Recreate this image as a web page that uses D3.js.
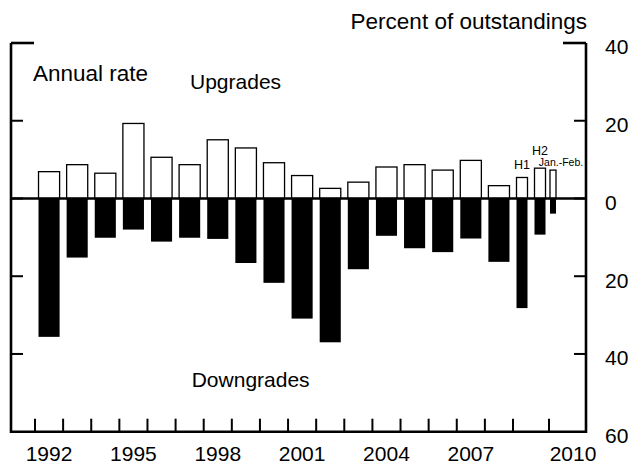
<!DOCTYPE html>
<html><head><meta charset="utf-8">
<script src="https://cdn.jsdelivr.net/npm/d3@7"></script>
<style>
body{margin:0;background:#fff}
svg{display:block}
text{font-family:"Liberation Sans",Arial,Helvetica,sans-serif;fill:#000}
</style>
</head><body>
<svg id="c" width="631" height="466"></svg>
<script>
// ---- data ----
const periods = ["1992","1993","1994","1995","1996","1997","1998","1999","2000","2001",
  "2002","2003","2004","2005","2006","2007","2008","H1","H2","Jan.-Feb."];
const periodStart = [1992,1993,1994,1995,1996,1997,1998,1999,2000,2001,
  2002,2003,2004,2005,2006,2007,2008,2009,2009.5,2010];
const periodLength = [1,1,1,1,1,1,1,1,1,1,1,1,1,1,1,1,1,0.5,0.5,2/12];
const upgrades = [6.9,8.7,6.5,19.3,10.6,8.7,15.1,13.0,9.2,5.9,2.6,4.2,8.1,8.7,7.3,9.8,3.3,5.4,7.8,7.3];
const downgrades = [35.6,15.2,10.1,8.0,11.1,10.1,10.4,16.6,21.7,30.9,37.0,18.2,9.6,12.8,13.8,10.3,16.3,28.2,9.3,3.9];
const yearTickLabels = [1992,1995,1998,2001,2004,2007,2010];
const yearTicks = d3.range(1992, 2011);
const yTicks = [40,20,0,-20,-40,-60];
const subLabels = ["H1","H2","Jan.-Feb."];

// ---- layout ----
const L = 11, R = 586, T = 43, B = 431.7;
const svg = d3.select("#c");
const x = d3.scaleLinear().domain([1992, 2009, 2010, 2011]).range([35, 513, 549, 597]);
const y = d3.scaleLinear().domain([-60, 40]).range([B, T]);

const data = periods.map((p,i)=>({p, s:periodStart[i], len:periodLength[i], up:upgrades[i], down:downgrades[i]}));
function barGeom(d){
  const band = x(d.s + d.len) - x(d.s);
  let w = 0.75*band;
  if (d.len < 1) w = Math.min(w, 11);
  const c = (x(d.s) + x(d.s + d.len))/2;
  return {x0: c - w/2, w, c};
}

// upgrade bars
svg.append("g").selectAll("rect").data(data).join("rect")
  .attr("x", d=>barGeom(d).x0)
  .attr("width", d=>barGeom(d).w)
  .attr("y", d=>y(d.up))
  .attr("height", d=>y(0)-y(d.up))
  .attr("fill","#fff").attr("stroke","#000").attr("stroke-width",1.3);

// downgrade bars
svg.append("g").selectAll("rect").data(data).join("rect")
  .attr("x", d=>barGeom(d).x0)
  .attr("width", d=>barGeom(d).w)
  .attr("y", y(0))
  .attr("height", d=>y(-d.down)-y(0))
  .attr("fill","#000");

// zero line
svg.append("line").attr("x1",L).attr("x2",R).attr("y1",y(0)).attr("y2",y(0))
  .attr("stroke","#000").attr("stroke-width",2.6);

// frame: left, right, bottom
const ax = svg.append("g").attr("stroke","#000").attr("stroke-width",2.6).attr("fill","none");
ax.append("path").attr("d",`M${L},${T}V${B}H${R}V${T}`);
// top corner ticks (longer)
ax.append("line").attr("x1",L).attr("x2",L+23).attr("y1",y(40)).attr("y2",y(40));
ax.append("line").attr("x1",R).attr("x2",R-23).attr("y1",y(40)).attr("y2",y(40));
// inner y ticks
const yt = svg.append("g").attr("stroke","#000").attr("stroke-width",2);
yTicks.filter(v=>v!==40 && v!==-60).forEach(v=>{
  yt.append("line").attr("x1",L).attr("x2",L+12).attr("y1",y(v)).attr("y2",y(v));
  yt.append("line").attr("x1",R).attr("x2",R-12).attr("y1",y(v)).attr("y2",y(v));
});
// bottom ticks (year boundaries)
svg.append("g").selectAll("line").data(yearTicks).join("line")
  .attr("x1",d=>x(d)).attr("x2",d=>x(d)).attr("y1",B).attr("y2",B-13)
  .attr("stroke","#000").attr("stroke-width",2);

// right axis labels
const ra = svg.append("g").attr("transform",`translate(${R},0)`)
  .call(d3.axisRight(y).tickValues(yTicks).tickSize(0).tickPadding(19).tickFormat(d=>Math.abs(d)));
ra.select(".domain").remove();
ra.selectAll("text").attr("dy","0.52em").style("font-size","21px")
  .style("font-family","'Liberation Sans',Arial,sans-serif");

// bottom labels
svg.append("g").selectAll("text").data(yearTickLabels).join("text")
  .attr("x", d=>x(d+0.5)).attr("y", 461).attr("text-anchor","middle")
  .style("font-size","21px").text(d=>d);

// titles / annotations
svg.append("text").attr("x",587).attr("y",29).attr("text-anchor","end")
  .style("font-size","22.5px").text("Percent of outstandings");
svg.append("text").attr("x",33).attr("y",80.7).style("font-size","22.5px").text("Annual rate");
svg.append("text").attr("x",190).attr("y",89.3).style("font-size","21px").text("Upgrades");
svg.append("text").attr("x",191.7).attr("y",387.3).style("font-size","21px").text("Downgrades");

// sub-period labels
const subData = data.filter(d=>subLabels.includes(d.p));
const subOffsets = {"H1":[0,8.4,12.5], "H2":[0,13.3,12.5], "Jan.-Feb.":[8,4.3,10.5]};
svg.append("g").selectAll("text").data(subData).join("text")
  .attr("x", d=>barGeom(d).c + subOffsets[d.p][0])
  .attr("y", d=>y(d.up) - subOffsets[d.p][1])
  .attr("text-anchor","middle")
  .style("font-size", d=>subOffsets[d.p][2]+"px")
  .text(d=>d.p);
</script>
</body></html>
